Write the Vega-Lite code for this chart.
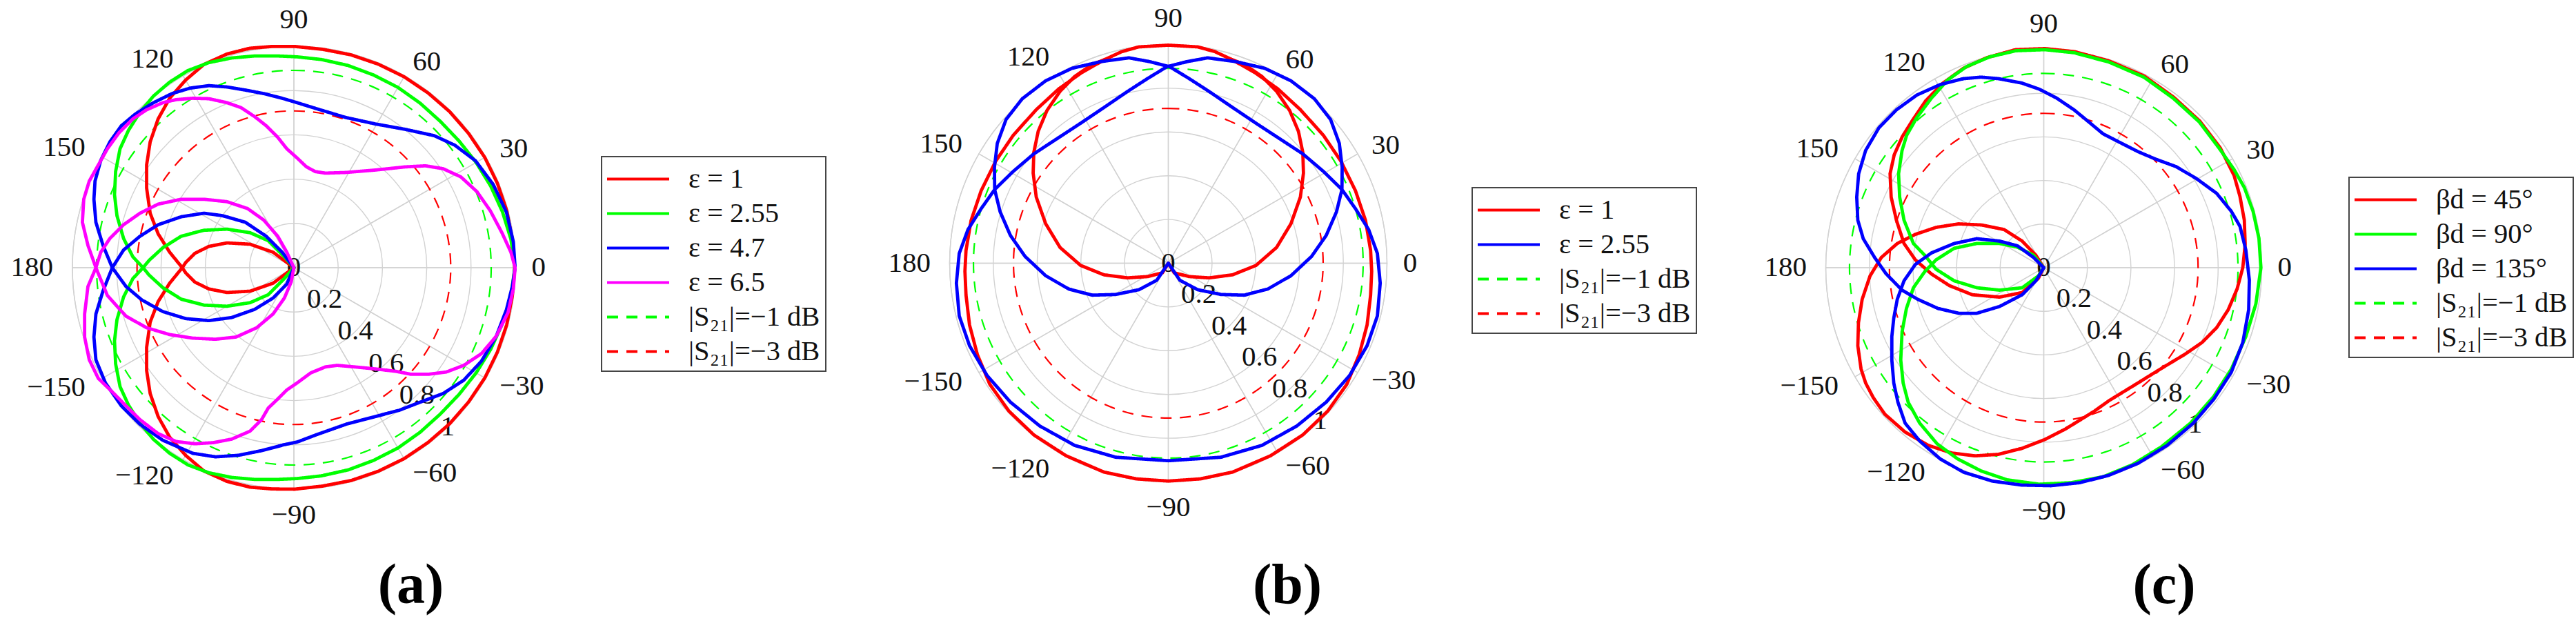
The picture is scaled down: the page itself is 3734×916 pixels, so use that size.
{
"$schema": "https://vega.github.io/schema/vega-lite/v6.json",
"background": "white",
"padding": {"left": 0, "top": 0, "right": 0, "bottom": 12},
"spacing": 0,
"bounds": "flush",
"config": {"view": {"stroke": null}, "legend": {"strokeWidth": 2, "cornerRadius": 0}},
"resolve": {"scale": {"stroke": "independent", "strokeDash": "independent"}, "legend": {"stroke": "independent", "strokeDash": "independent"}},
"datasets": {
"circles": [{"r":0.2},{"r":0.4},{"r":0.6},{"r":0.8},{"r":1}],
"angles": [{"a":0,"t":"0"},{"a":30,"t":"30"},{"a":60,"t":"60"},{"a":90,"t":"90"},{"a":120,"t":"120"},{"a":150,"t":"150"},{"a":180,"t":"180"},{"a":-150,"t":"−150"},{"a":-120,"t":"−120"},{"a":-90,"t":"−90"},{"a":-60,"t":"−60"},{"a":-30,"t":"−30"}],
"radial": [{"v":0,"t":"0"},{"v":0.2,"t":"0.2"},{"v":0.4,"t":"0.4"},{"v":0.6,"t":"0.6"},{"v":0.8,"t":"0.8"},{"v":1,"t":"1"}],
"db1": [{"s":"|S₂₁|=−1 dB","r":0.891}],
"db3": [{"s":"|S₂₁|=−3 dB","r":0.708}],
"A": [
{"s":"ε = 1","x":0,"y":0},{"s":"ε = 1","x":-0.094,"y":0.070},{"s":"ε = 1","x":-0.198,"y":0.106},{"s":"ε = 1","x":-0.302,"y":0.112},{"s":"ε = 1","x":-0.384,"y":0.096},{"s":"ε = 1","x":-0.447,"y":0.065},{"s":"ε = 1","x":-0.488,"y":0.024},{"s":"ε = 1","x":-0.504,"y":0},
{"s":"ε = 1","x":-0.561,"y":0.070},{"s":"ε = 1","x":-0.613,"y":0.153},{"s":"ε = 1","x":-0.649,"y":0.246},{"s":"ε = 1","x":-0.665,"y":0.360},{"s":"ε = 1","x":-0.665,"y":0.464},{"s":"ε = 1","x":-0.649,"y":0.568},{"s":"ε = 1","x":-0.613,"y":0.672},{"s":"ε = 1","x":-0.561,"y":0.765},{"s":"ε = 1","x":-0.488,"y":0.848},{"s":"ε = 1","x":-0.406,"y":0.918},{"s":"ε = 1","x":-0.302,"y":0.965},{"s":"ε = 1","x":-0.198,"y":0.991},{"s":"ε = 1","x":-0.097,"y":0.999},{"s":"ε = 1","x":0.003,"y":0.999},
{"s":"ε = 1","x":0.130,"y":0.986},{"s":"ε = 1","x":0.258,"y":0.961},{"s":"ε = 1","x":0.381,"y":0.919},{"s":"ε = 1","x":0.498,"y":0.862},{"s":"ε = 1","x":0.606,"y":0.789},{"s":"ε = 1","x":0.704,"y":0.704},{"s":"ε = 1","x":0.789,"y":0.606},{"s":"ε = 1","x":0.862,"y":0.498},{"s":"ε = 1","x":0.919,"y":0.381},{"s":"ε = 1","x":0.961,"y":0.258},{"s":"ε = 1","x":0.986,"y":0.130},{"s":"ε = 1","x":0.997,"y":0},
{"s":"ε = 1","x":0.986,"y":-0.130},{"s":"ε = 1","x":0.961,"y":-0.258},{"s":"ε = 1","x":0.919,"y":-0.381},{"s":"ε = 1","x":0.862,"y":-0.498},{"s":"ε = 1","x":0.789,"y":-0.606},{"s":"ε = 1","x":0.704,"y":-0.704},{"s":"ε = 1","x":0.606,"y":-0.789},{"s":"ε = 1","x":0.498,"y":-0.862},{"s":"ε = 1","x":0.381,"y":-0.919},{"s":"ε = 1","x":0.258,"y":-0.961},{"s":"ε = 1","x":0.130,"y":-0.986},{"s":"ε = 1","x":0.003,"y":-1.0},
{"s":"ε = 1","x":-0.097,"y":-0.999},{"s":"ε = 1","x":-0.198,"y":-0.991},{"s":"ε = 1","x":-0.302,"y":-0.965},{"s":"ε = 1","x":-0.406,"y":-0.918},{"s":"ε = 1","x":-0.488,"y":-0.848},{"s":"ε = 1","x":-0.561,"y":-0.765},{"s":"ε = 1","x":-0.613,"y":-0.672},{"s":"ε = 1","x":-0.649,"y":-0.568},{"s":"ε = 1","x":-0.665,"y":-0.464},{"s":"ε = 1","x":-0.665,"y":-0.360},{"s":"ε = 1","x":-0.649,"y":-0.246},{"s":"ε = 1","x":-0.613,"y":-0.153},{"s":"ε = 1","x":-0.561,"y":-0.070},{"s":"ε = 1","x":-0.504,"y":0},
{"s":"ε = 1","x":-0.488,"y":-0.024},{"s":"ε = 1","x":-0.447,"y":-0.065},{"s":"ε = 1","x":-0.384,"y":-0.096},{"s":"ε = 1","x":-0.302,"y":-0.112},{"s":"ε = 1","x":-0.198,"y":-0.106},{"s":"ε = 1","x":-0.094,"y":-0.070},{"s":"ε = 1","x":0,"y":0},

{"s":"ε = 2.55","x":0,"y":0},{"s":"ε = 2.55","x":-0.043,"y":0.049},{"s":"ε = 2.55","x":-0.116,"y":0.122},{"s":"ε = 2.55","x":-0.198,"y":0.158},{"s":"ε = 2.55","x":-0.302,"y":0.174},{"s":"ε = 2.55","x":-0.406,"y":0.169},{"s":"ε = 2.55","x":-0.509,"y":0.142},{"s":"ε = 2.55","x":-0.592,"y":0.090},{"s":"ε = 2.55","x":-0.654,"y":0.033},{"s":"ε = 2.55","x":-0.681,"y":0},
{"s":"ε = 2.55","x":-0.727,"y":0.049},{"s":"ε = 2.55","x":-0.769,"y":0.132},{"s":"ε = 2.55","x":-0.799,"y":0.235},{"s":"ε = 2.55","x":-0.810,"y":0.330},{"s":"ε = 2.55","x":-0.805,"y":0.434},{"s":"ε = 2.55","x":-0.785,"y":0.537},{"s":"ε = 2.55","x":-0.747,"y":0.620},{"s":"ε = 2.55","x":-0.695,"y":0.702},{"s":"ε = 2.55","x":-0.634,"y":0.775},{"s":"ε = 2.55","x":-0.561,"y":0.838},{"s":"ε = 2.55","x":-0.479,"y":0.890},{"s":"ε = 2.55","x":-0.384,"y":0.926},{"s":"ε = 2.55","x":-0.281,"y":0.947},{"s":"ε = 2.55","x":-0.177,"y":0.956},{"s":"ε = 2.55","x":-0.073,"y":0.956},{"s":"ε = 2.55","x":0.015,"y":0.952},
{"s":"ε = 2.55","x":0.124,"y":0.940},{"s":"ε = 2.55","x":0.245,"y":0.913},{"s":"ε = 2.55","x":0.360,"y":0.870},{"s":"ε = 2.55","x":0.470,"y":0.814},{"s":"ε = 2.55","x":0.570,"y":0.743},{"s":"ε = 2.55","x":0.661,"y":0.661},{"s":"ε = 2.55","x":0.746,"y":0.572},{"s":"ε = 2.55","x":0.823,"y":0.475},{"s":"ε = 2.55","x":0.889,"y":0.368},{"s":"ε = 2.55","x":0.942,"y":0.252},{"s":"ε = 2.55","x":0.980,"y":0.129},{"s":"ε = 2.55","x":0.998,"y":0},
{"s":"ε = 2.55","x":0.980,"y":-0.129},{"s":"ε = 2.55","x":0.942,"y":-0.252},{"s":"ε = 2.55","x":0.889,"y":-0.368},{"s":"ε = 2.55","x":0.823,"y":-0.475},{"s":"ε = 2.55","x":0.746,"y":-0.572},{"s":"ε = 2.55","x":0.661,"y":-0.661},{"s":"ε = 2.55","x":0.570,"y":-0.743},{"s":"ε = 2.55","x":0.470,"y":-0.814},{"s":"ε = 2.55","x":0.360,"y":-0.870},{"s":"ε = 2.55","x":0.245,"y":-0.913},{"s":"ε = 2.55","x":0.124,"y":-0.940},{"s":"ε = 2.55","x":0.015,"y":-0.952},
{"s":"ε = 2.55","x":-0.073,"y":-0.956},{"s":"ε = 2.55","x":-0.177,"y":-0.956},{"s":"ε = 2.55","x":-0.281,"y":-0.947},{"s":"ε = 2.55","x":-0.384,"y":-0.926},{"s":"ε = 2.55","x":-0.479,"y":-0.890},{"s":"ε = 2.55","x":-0.561,"y":-0.838},{"s":"ε = 2.55","x":-0.634,"y":-0.775},{"s":"ε = 2.55","x":-0.695,"y":-0.702},{"s":"ε = 2.55","x":-0.747,"y":-0.620},{"s":"ε = 2.55","x":-0.785,"y":-0.537},{"s":"ε = 2.55","x":-0.805,"y":-0.434},{"s":"ε = 2.55","x":-0.810,"y":-0.330},{"s":"ε = 2.55","x":-0.799,"y":-0.235},{"s":"ε = 2.55","x":-0.769,"y":-0.132},{"s":"ε = 2.55","x":-0.727,"y":-0.049},{"s":"ε = 2.55","x":-0.681,"y":0},
{"s":"ε = 2.55","x":-0.654,"y":-0.033},{"s":"ε = 2.55","x":-0.592,"y":-0.090},{"s":"ε = 2.55","x":-0.509,"y":-0.142},{"s":"ε = 2.55","x":-0.406,"y":-0.169},{"s":"ε = 2.55","x":-0.302,"y":-0.174},{"s":"ε = 2.55","x":-0.198,"y":-0.158},{"s":"ε = 2.55","x":-0.116,"y":-0.122},{"s":"ε = 2.55","x":-0.043,"y":-0.049},{"s":"ε = 2.55","x":0,"y":0},

{"s":"ε = 4.7","x":0,"y":0},{"s":"ε = 4.7","x":-0.053,"y":0.070},{"s":"ε = 4.7","x":-0.125,"y":0.142},{"s":"ε = 4.7","x":-0.219,"y":0.205},{"s":"ε = 4.7","x":-0.323,"y":0.235},{"s":"ε = 4.7","x":-0.406,"y":0.246},{"s":"ε = 4.7","x":-0.509,"y":0.230},{"s":"ε = 4.7","x":-0.613,"y":0.194},{"s":"ε = 4.7","x":-0.695,"y":0.142},{"s":"ε = 4.7","x":-0.769,"y":0.080},{"s":"ε = 4.7","x":-0.820,"y":0},
{"s":"ε = 4.7","x":-0.862,"y":0.101},{"s":"ε = 4.7","x":-0.894,"y":0.205},{"s":"ε = 4.7","x":-0.903,"y":0.309},{"s":"ε = 4.7","x":-0.898,"y":0.391},{"s":"ε = 4.7","x":-0.872,"y":0.485},{"s":"ε = 4.7","x":-0.831,"y":0.568},{"s":"ε = 4.7","x":-0.779,"y":0.641},{"s":"ε = 4.7","x":-0.717,"y":0.693},{"s":"ε = 4.7","x":-0.634,"y":0.745},{"s":"ε = 4.7","x":-0.551,"y":0.786},{"s":"ε = 4.7","x":-0.468,"y":0.811},{"s":"ε = 4.7","x":-0.384,"y":0.822},{"s":"ε = 4.7","x":-0.302,"y":0.816},{"s":"ε = 4.7","x":-0.219,"y":0.802},{"s":"ε = 4.7","x":-0.136,"y":0.786},{"s":"ε = 4.7","x":-0.053,"y":0.765},{"s":"ε = 4.7","x":0.015,"y":0.745},
{"s":"ε = 4.7","x":0.102,"y":0.718},{"s":"ε = 4.7","x":0.235,"y":0.678},{"s":"ε = 4.7","x":0.368,"y":0.649},{"s":"ε = 4.7","x":0.501,"y":0.625},{"s":"ε = 4.7","x":0.634,"y":0.596},{"s":"ε = 4.7","x":0.727,"y":0.553},{"s":"ε = 4.7","x":0.820,"y":0.483},{"s":"ε = 4.7","x":0.900,"y":0.376},{"s":"ε = 4.7","x":0.960,"y":0.250},{"s":"ε = 4.7","x":0.991,"y":0.117},{"s":"ε = 4.7","x":0.999,"y":0},
{"s":"ε = 4.7","x":0.987,"y":-0.082},{"s":"ε = 4.7","x":0.960,"y":-0.189},{"s":"ε = 4.7","x":0.914,"y":-0.309},{"s":"ε = 4.7","x":0.847,"y":-0.422},{"s":"ε = 4.7","x":0.767,"y":-0.508},{"s":"ε = 4.7","x":0.674,"y":-0.568},{"s":"ε = 4.7","x":0.568,"y":-0.608},{"s":"ε = 4.7","x":0.475,"y":-0.644},{"s":"ε = 4.7","x":0.368,"y":-0.672},{"s":"ε = 4.7","x":0.235,"y":-0.707},{"s":"ε = 4.7","x":0.102,"y":-0.754},{"s":"ε = 4.7","x":0.015,"y":-0.787},
{"s":"ε = 4.7","x":-0.043,"y":-0.799},{"s":"ε = 4.7","x":-0.146,"y":-0.826},{"s":"ε = 4.7","x":-0.250,"y":-0.847},{"s":"ε = 4.7","x":-0.354,"y":-0.854},{"s":"ε = 4.7","x":-0.457,"y":-0.838},{"s":"ε = 4.7","x":-0.592,"y":-0.779},{"s":"ε = 4.7","x":-0.695,"y":-0.707},{"s":"ε = 4.7","x":-0.779,"y":-0.624},{"s":"ε = 4.7","x":-0.851,"y":-0.520},{"s":"ε = 4.7","x":-0.894,"y":-0.416},{"s":"ε = 4.7","x":-0.903,"y":-0.313},{"s":"ε = 4.7","x":-0.894,"y":-0.209},{"s":"ε = 4.7","x":-0.862,"y":-0.105},{"s":"ε = 4.7","x":-0.820,"y":0},
{"s":"ε = 4.7","x":-0.758,"y":-0.085},{"s":"ε = 4.7","x":-0.686,"y":-0.146},{"s":"ε = 4.7","x":-0.592,"y":-0.198},{"s":"ε = 4.7","x":-0.488,"y":-0.230},{"s":"ε = 4.7","x":-0.384,"y":-0.239},{"s":"ε = 4.7","x":-0.281,"y":-0.225},{"s":"ε = 4.7","x":-0.177,"y":-0.188},{"s":"ε = 4.7","x":-0.094,"y":-0.137},{"s":"ε = 4.7","x":-0.032,"y":-0.074},{"s":"ε = 4.7","x":0,"y":0},

{"s":"ε = 6.5","x":0,"y":0},{"s":"ε = 6.5","x":-0.032,"y":0.070},{"s":"ε = 6.5","x":-0.073,"y":0.142},{"s":"ε = 6.5","x":-0.136,"y":0.215},{"s":"ε = 6.5","x":-0.209,"y":0.267},{"s":"ε = 6.5","x":-0.302,"y":0.298},{"s":"ε = 6.5","x":-0.406,"y":0.309},{"s":"ε = 6.5","x":-0.509,"y":0.309},{"s":"ε = 6.5","x":-0.613,"y":0.287},{"s":"ε = 6.5","x":-0.695,"y":0.246},{"s":"ε = 6.5","x":-0.769,"y":0.194},{"s":"ε = 6.5","x":-0.831,"y":0.132},{"s":"ε = 6.5","x":-0.872,"y":0.070},{"s":"ε = 6.5","x":-0.894,"y":0},
{"s":"ε = 6.5","x":-0.930,"y":0.101},{"s":"ε = 6.5","x":-0.955,"y":0.205},{"s":"ε = 6.5","x":-0.949,"y":0.309},{"s":"ε = 6.5","x":-0.924,"y":0.391},{"s":"ε = 6.5","x":-0.883,"y":0.464},{"s":"ε = 6.5","x":-0.842,"y":0.537},{"s":"ε = 6.5","x":-0.790,"y":0.609},{"s":"ε = 6.5","x":-0.727,"y":0.672},{"s":"ε = 6.5","x":-0.665,"y":0.713},{"s":"ε = 6.5","x":-0.592,"y":0.745},{"s":"ε = 6.5","x":-0.531,"y":0.759},{"s":"ε = 6.5","x":-0.457,"y":0.765},{"s":"ε = 6.5","x":-0.384,"y":0.763},{"s":"ε = 6.5","x":-0.302,"y":0.745},{"s":"ε = 6.5","x":-0.239,"y":0.723},{"s":"ε = 6.5","x":-0.177,"y":0.682},{"s":"ε = 6.5","x":-0.125,"y":0.641},{"s":"ε = 6.5","x":-0.073,"y":0.589},{"s":"ε = 6.5","x":-0.032,"y":0.537},{"s":"ε = 6.5","x":0.015,"y":0.495},{"s":"ε = 6.5","x":0.056,"y":0.456},{"s":"ε = 6.5","x":0.096,"y":0.434},{"s":"ε = 6.5","x":0.142,"y":0.427},{"s":"ε = 6.5","x":0.235,"y":0.430},{"s":"ε = 6.5","x":0.368,"y":0.441},{"s":"ε = 6.5","x":0.501,"y":0.455},{"s":"ε = 6.5","x":0.594,"y":0.460},{"s":"ε = 6.5","x":0.674,"y":0.447},{"s":"ε = 6.5","x":0.754,"y":0.410},{"s":"ε = 6.5","x":0.827,"y":0.343},{"s":"ε = 6.5","x":0.887,"y":0.257},{"s":"ε = 6.5","x":0.940,"y":0.157},{"s":"ε = 6.5","x":0.980,"y":0.070},{"s":"ε = 6.5","x":0.999,"y":0},
{"s":"ε = 6.5","x":0.991,"y":-0.096},{"s":"ε = 6.5","x":0.967,"y":-0.202},{"s":"ε = 6.5","x":0.914,"y":-0.309},{"s":"ε = 6.5","x":0.847,"y":-0.388},{"s":"ε = 6.5","x":0.767,"y":-0.441},{"s":"ε = 6.5","x":0.688,"y":-0.471},{"s":"ε = 6.5","x":0.608,"y":-0.481},{"s":"ε = 6.5","x":0.528,"y":-0.481},{"s":"ε = 6.5","x":0.461,"y":-0.468},{"s":"ε = 6.5","x":0.368,"y":-0.457},{"s":"ε = 6.5","x":0.275,"y":-0.448},{"s":"ε = 6.5","x":0.195,"y":-0.441},{"s":"ε = 6.5","x":0.142,"y":-0.448},{"s":"ε = 6.5","x":0.076,"y":-0.475},{"s":"ε = 6.5","x":0.015,"y":-0.520},{"s":"ε = 6.5","x":-0.032,"y":-0.552},{"s":"ε = 6.5","x":-0.073,"y":-0.593},{"s":"ε = 6.5","x":-0.116,"y":-0.634},{"s":"ε = 6.5","x":-0.146,"y":-0.686},{"s":"ε = 6.5","x":-0.198,"y":-0.738},{"s":"ε = 6.5","x":-0.281,"y":-0.774},{"s":"ε = 6.5","x":-0.364,"y":-0.790},{"s":"ε = 6.5","x":-0.447,"y":-0.795},{"s":"ε = 6.5","x":-0.531,"y":-0.785},{"s":"ε = 6.5","x":-0.613,"y":-0.749},{"s":"ε = 6.5","x":-0.695,"y":-0.686},{"s":"ε = 6.5","x":-0.758,"y":-0.624},{"s":"ε = 6.5","x":-0.820,"y":-0.561},{"s":"ε = 6.5","x":-0.883,"y":-0.500},{"s":"ε = 6.5","x":-0.924,"y":-0.416},{"s":"ε = 6.5","x":-0.945,"y":-0.313},{"s":"ε = 6.5","x":-0.945,"y":-0.209},{"s":"ε = 6.5","x":-0.930,"y":-0.085},{"s":"ε = 6.5","x":-0.894,"y":0},
{"s":"ε = 6.5","x":-0.842,"y":-0.126},{"s":"ε = 6.5","x":-0.758,"y":-0.219},{"s":"ε = 6.5","x":-0.665,"y":-0.271},{"s":"ε = 6.5","x":-0.561,"y":-0.302},{"s":"ε = 6.5","x":-0.457,"y":-0.318},{"s":"ε = 6.5","x":-0.354,"y":-0.323},{"s":"ε = 6.5","x":-0.261,"y":-0.313},{"s":"ε = 6.5","x":-0.168,"y":-0.271},{"s":"ε = 6.5","x":-0.094,"y":-0.209},{"s":"ε = 6.5","x":-0.043,"y":-0.137},{"s":"ε = 6.5","x":-0.012,"y":-0.064},{"s":"ε = 6.5","x":0,"y":0}
],
"B": [
{"s":"ε = 1","k":1,"x":0,"y":0},{"s":"ε = 1","k":1,"x":0.027,"y":-0.044},{"s":"ε = 1","k":1,"x":0.094,"y":-0.061},{"s":"ε = 1","k":1,"x":0.187,"y":-0.067},{"s":"ε = 1","k":1,"x":0.294,"y":-0.053},{"s":"ε = 1","k":1,"x":0.401,"y":-0.010},{"s":"ε = 1","k":1,"x":0.495,"y":0.072},{"s":"ε = 1","k":1,"x":0.561,"y":0.181},{"s":"ε = 1","k":1,"x":0.604,"y":0.303},{"s":"ε = 1","k":1,"x":0.618,"y":0.412},{"s":"ε = 1","k":1,"x":0.615,"y":0.507},{"s":"ε = 1","k":1,"x":0.595,"y":0.603},{"s":"ε = 1","k":1,"x":0.555,"y":0.698},{"s":"ε = 1","k":1,"x":0.495,"y":0.786},{"s":"ε = 1","k":1,"x":0.428,"y":0.854},{"s":"ε = 1","k":1,"x":0.348,"y":0.909},
{"s":"ε = 1","k":1,"x":0.291,"y":0.931},{"s":"ε = 1","k":1,"x":0.214,"y":0.967},{"s":"ε = 1","k":1,"x":0.135,"y":0.989},{"s":"ε = 1","k":1,"x":0,"y":0.997},{"s":"ε = 1","k":1,"x":-0.135,"y":0.989},{"s":"ε = 1","k":1,"x":-0.214,"y":0.967},{"s":"ε = 1","k":1,"x":-0.291,"y":0.931},
{"s":"ε = 1","k":1,"x":-0.348,"y":0.909},{"s":"ε = 1","k":1,"x":-0.428,"y":0.854},{"s":"ε = 1","k":1,"x":-0.495,"y":0.786},{"s":"ε = 1","k":1,"x":-0.555,"y":0.698},{"s":"ε = 1","k":1,"x":-0.595,"y":0.603},{"s":"ε = 1","k":1,"x":-0.615,"y":0.507},{"s":"ε = 1","k":1,"x":-0.618,"y":0.412},{"s":"ε = 1","k":1,"x":-0.604,"y":0.303},{"s":"ε = 1","k":1,"x":-0.561,"y":0.181},{"s":"ε = 1","k":1,"x":-0.495,"y":0.072},{"s":"ε = 1","k":1,"x":-0.401,"y":-0.010},{"s":"ε = 1","k":1,"x":-0.294,"y":-0.053},{"s":"ε = 1","k":1,"x":-0.187,"y":-0.067},{"s":"ε = 1","k":1,"x":-0.094,"y":-0.061},{"s":"ε = 1","k":1,"x":-0.027,"y":-0.044},{"s":"ε = 1","k":1,"x":0,"y":0},
{"s":"ε = 1","k":2,"x":-0.291,"y":0.931},{"s":"ε = 1","k":2,"x":-0.397,"y":0.871},{"s":"ε = 1","k":2,"x":-0.501,"y":0.797},{"s":"ε = 1","k":2,"x":-0.604,"y":0.702},{"s":"ε = 1","k":2,"x":-0.709,"y":0.585},{"s":"ε = 1","k":2,"x":-0.789,"y":0.467},{"s":"ε = 1","k":2,"x":-0.856,"y":0.331},{"s":"ε = 1","k":2,"x":-0.902,"y":0.195},{"s":"ε = 1","k":2,"x":-0.925,"y":0.059},{"s":"ε = 1","k":2,"x":-0.930,"y":-0.037},{"s":"ε = 1","k":2,"x":-0.925,"y":-0.146},{"s":"ε = 1","k":2,"x":-0.909,"y":-0.282},{"s":"ε = 1","k":2,"x":-0.873,"y":-0.418},{"s":"ε = 1","k":2,"x":-0.816,"y":-0.554},{"s":"ε = 1","k":2,"x":-0.729,"y":-0.676},{"s":"ε = 1","k":2,"x":-0.615,"y":-0.785},{"s":"ε = 1","k":2,"x":-0.468,"y":-0.880},{"s":"ε = 1","k":2,"x":-0.294,"y":-0.955},{"s":"ε = 1","k":2,"x":-0.147,"y":-0.986},{"s":"ε = 1","k":2,"x":0,"y":-0.996},{"s":"ε = 1","k":2,"x":0.147,"y":-0.986},{"s":"ε = 1","k":2,"x":0.294,"y":-0.955},{"s":"ε = 1","k":2,"x":0.468,"y":-0.880},{"s":"ε = 1","k":2,"x":0.615,"y":-0.785},{"s":"ε = 1","k":2,"x":0.729,"y":-0.676},{"s":"ε = 1","k":2,"x":0.816,"y":-0.554},{"s":"ε = 1","k":2,"x":0.873,"y":-0.418},{"s":"ε = 1","k":2,"x":0.909,"y":-0.282},{"s":"ε = 1","k":2,"x":0.925,"y":-0.146},{"s":"ε = 1","k":2,"x":0.930,"y":-0.037},{"s":"ε = 1","k":2,"x":0.925,"y":0.059},{"s":"ε = 1","k":2,"x":0.902,"y":0.195},{"s":"ε = 1","k":2,"x":0.856,"y":0.331},{"s":"ε = 1","k":2,"x":0.789,"y":0.467},{"s":"ε = 1","k":2,"x":0.709,"y":0.585},{"s":"ε = 1","k":2,"x":0.604,"y":0.702},{"s":"ε = 1","k":2,"x":0.501,"y":0.797},{"s":"ε = 1","k":2,"x":0.397,"y":0.871},{"s":"ε = 1","k":2,"x":0.291,"y":0.931},

{"s":"ε = 2.55","x":0,"y":0},{"s":"ε = 2.55","x":-0.053,"y":-0.078},{"s":"ε = 2.55","x":-0.134,"y":-0.121},{"s":"ε = 2.55","x":-0.241,"y":-0.143},{"s":"ε = 2.55","x":-0.348,"y":-0.146},{"s":"ε = 2.55","x":-0.455,"y":-0.118},{"s":"ε = 2.55","x":-0.561,"y":-0.057},{"s":"ε = 2.55","x":-0.655,"y":0.031},{"s":"ε = 2.55","x":-0.722,"y":0.127},{"s":"ε = 2.55","x":-0.769,"y":0.235},{"s":"ε = 2.55","x":-0.794,"y":0.337},
{"s":"ε = 2.55","x":-0.795,"y":0.439},{"s":"ε = 2.55","x":-0.782,"y":0.548},{"s":"ε = 2.55","x":-0.742,"y":0.657},{"s":"ε = 2.55","x":-0.668,"y":0.752},{"s":"ε = 2.55","x":-0.561,"y":0.834},{"s":"ε = 2.55","x":-0.441,"y":0.891},{"s":"ε = 2.55","x":-0.307,"y":0.922},{"s":"ε = 2.55","x":-0.180,"y":0.939},
{"s":"ε = 2.55","x":-0.087,"y":0.922},{"s":"ε = 2.55","x":0.007,"y":0.898},{"s":"ε = 2.55","x":0.094,"y":0.845},{"s":"ε = 2.55","x":0.187,"y":0.785},{"s":"ε = 2.55","x":0.294,"y":0.712},{"s":"ε = 2.55","x":0.401,"y":0.640},{"s":"ε = 2.55","x":0.508,"y":0.570},{"s":"ε = 2.55","x":0.615,"y":0.500},{"s":"ε = 2.55","x":0.709,"y":0.420},{"s":"ε = 2.55","x":0.794,"y":0.337},
{"s":"ε = 2.55","x":0.856,"y":0.249},{"s":"ε = 2.55","x":0.916,"y":0.154},{"s":"ε = 2.55","x":0.956,"y":0.045},{"s":"ε = 2.55","x":0.969,"y":-0.091},{"s":"ε = 2.55","x":0.956,"y":-0.241},{"s":"ε = 2.55","x":0.909,"y":-0.377},{"s":"ε = 2.55","x":0.829,"y":-0.513},{"s":"ε = 2.55","x":0.722,"y":-0.635},{"s":"ε = 2.55","x":0.588,"y":-0.744},{"s":"ε = 2.55","x":0.428,"y":-0.833},{"s":"ε = 2.55","x":0.241,"y":-0.887},{"s":"ε = 2.55","x":0,"y":-0.903},
{"s":"ε = 2.55","x":-0.241,"y":-0.887},{"s":"ε = 2.55","x":-0.428,"y":-0.833},{"s":"ε = 2.55","x":-0.588,"y":-0.744},{"s":"ε = 2.55","x":-0.722,"y":-0.635},{"s":"ε = 2.55","x":-0.829,"y":-0.513},{"s":"ε = 2.55","x":-0.909,"y":-0.377},{"s":"ε = 2.55","x":-0.956,"y":-0.241},{"s":"ε = 2.55","x":-0.969,"y":-0.091},{"s":"ε = 2.55","x":-0.956,"y":0.045},{"s":"ε = 2.55","x":-0.916,"y":0.154},{"s":"ε = 2.55","x":-0.856,"y":0.249},{"s":"ε = 2.55","x":-0.794,"y":0.337},
{"s":"ε = 2.55","x":-0.709,"y":0.420},{"s":"ε = 2.55","x":-0.615,"y":0.500},{"s":"ε = 2.55","x":-0.508,"y":0.570},{"s":"ε = 2.55","x":-0.401,"y":0.640},{"s":"ε = 2.55","x":-0.294,"y":0.712},{"s":"ε = 2.55","x":-0.187,"y":0.785},{"s":"ε = 2.55","x":-0.094,"y":0.845},{"s":"ε = 2.55","x":-0.007,"y":0.898},{"s":"ε = 2.55","x":0.087,"y":0.922},{"s":"ε = 2.55","x":0.180,"y":0.939},
{"s":"ε = 2.55","x":0.307,"y":0.922},{"s":"ε = 2.55","x":0.441,"y":0.891},{"s":"ε = 2.55","x":0.561,"y":0.834},{"s":"ε = 2.55","x":0.668,"y":0.752},{"s":"ε = 2.55","x":0.742,"y":0.657},{"s":"ε = 2.55","x":0.782,"y":0.548},{"s":"ε = 2.55","x":0.795,"y":0.439},{"s":"ε = 2.55","x":0.794,"y":0.337},
{"s":"ε = 2.55","x":0.769,"y":0.235},{"s":"ε = 2.55","x":0.722,"y":0.127},{"s":"ε = 2.55","x":0.655,"y":0.031},{"s":"ε = 2.55","x":0.561,"y":-0.057},{"s":"ε = 2.55","x":0.455,"y":-0.118},{"s":"ε = 2.55","x":0.348,"y":-0.146},{"s":"ε = 2.55","x":0.241,"y":-0.143},{"s":"ε = 2.55","x":0.134,"y":-0.121},{"s":"ε = 2.55","x":0.053,"y":-0.078},{"s":"ε = 2.55","x":0,"y":0}
],
"C": [
{"s":"βd = 45°","x":0,"y":0},{"s":"βd = 45°","x":-0.036,"y":0.057},{"s":"βd = 45°","x":-0.099,"y":0.122},{"s":"βd = 45°","x":-0.182,"y":0.175},{"s":"βd = 45°","x":-0.286,"y":0.196},{"s":"βd = 45°","x":-0.390,"y":0.201},{"s":"βd = 45°","x":-0.494,"y":0.185},{"s":"βd = 45°","x":-0.589,"y":0.153},{"s":"βd = 45°","x":-0.672,"y":0.111},{"s":"βd = 45°","x":-0.745,"y":0.047},{"s":"βd = 45°","x":-0.797,"y":-0.038},{"s":"βd = 45°","x":-0.833,"y":-0.145},{"s":"βd = 45°","x":-0.850,"y":-0.252},{"s":"βd = 45°","x":-0.853,"y":-0.358},{"s":"βd = 45°","x":-0.838,"y":-0.465},{"s":"βd = 45°","x":-0.817,"y":-0.529},{"s":"βd = 45°","x":-0.782,"y":-0.596},{"s":"βd = 45°","x":-0.729,"y":-0.672},{"s":"βd = 45°","x":-0.636,"y":-0.754},{"s":"βd = 45°","x":-0.529,"y":-0.815},{"s":"βd = 45°","x":-0.422,"y":-0.850},{"s":"βd = 45°","x":-0.315,"y":-0.863},{"s":"βd = 45°","x":-0.208,"y":-0.856},{"s":"βd = 45°","x":-0.101,"y":-0.829},{"s":"βd = 45°","x":0.005,"y":-0.788},{"s":"βd = 45°","x":0.099,"y":-0.740},{"s":"βd = 45°","x":0.166,"y":-0.699},{"s":"βd = 45°","x":0.232,"y":-0.658},{"s":"βd = 45°","x":0.299,"y":-0.610},{"s":"βd = 45°","x":0.366,"y":-0.569},{"s":"βd = 45°","x":0.433,"y":-0.528},{"s":"βd = 45°","x":0.499,"y":-0.487},{"s":"βd = 45°","x":0.566,"y":-0.446},{"s":"βd = 45°","x":0.646,"y":-0.398},{"s":"βd = 45°","x":0.726,"y":-0.343},{"s":"βd = 45°","x":0.793,"y":-0.275},{"s":"βd = 45°","x":0.846,"y":-0.193},{"s":"βd = 45°","x":0.887,"y":-0.097},{"s":"βd = 45°","x":0.913,"y":0},{"s":"βd = 45°","x":0.924,"y":0.108},{"s":"βd = 45°","x":0.920,"y":0.218},{"s":"βd = 45°","x":0.900,"y":0.327},{"s":"βd = 45°","x":0.873,"y":0.423},{"s":"βd = 45°","x":0.810,"y":0.549},{"s":"βd = 45°","x":0.716,"y":0.672},{"s":"βd = 45°","x":0.596,"y":0.782},{"s":"βd = 45°","x":0.461,"y":0.879},{"s":"βd = 45°","x":0.300,"y":0.948},{"s":"βd = 45°","x":0.140,"y":0.991},{"s":"βd = 45°","x":0.005,"y":1.005},{"s":"βd = 45°","x":-0.129,"y":1.0},{"s":"βd = 45°","x":-0.262,"y":0.963},{"s":"βd = 45°","x":-0.368,"y":0.915},{"s":"βd = 45°","x":-0.462,"y":0.847},{"s":"βd = 45°","x":-0.542,"y":0.765},{"s":"βd = 45°","x":-0.602,"y":0.676},{"s":"βd = 45°","x":-0.649,"y":0.601},{"s":"βd = 45°","x":-0.686,"y":0.518},{"s":"βd = 45°","x":-0.705,"y":0.431},{"s":"βd = 45°","x":-0.700,"y":0.324},{"s":"βd = 45°","x":-0.676,"y":0.218},{"s":"βd = 45°","x":-0.641,"y":0.111},{"s":"βd = 45°","x":-0.589,"y":0.036},{"s":"βd = 45°","x":-0.515,"y":-0.029},{"s":"βd = 45°","x":-0.433,"y":-0.082},{"s":"βd = 45°","x":-0.328,"y":-0.124},{"s":"βd = 45°","x":-0.203,"y":-0.135},{"s":"βd = 45°","x":-0.099,"y":-0.114},{"s":"βd = 45°","x":-0.025,"y":-0.049},{"s":"βd = 45°","x":0,"y":0},

{"s":"βd = 90°","x":0,"y":0},{"s":"βd = 90°","x":-0.047,"y":0.057},{"s":"βd = 90°","x":-0.120,"y":0.094},{"s":"βd = 90°","x":-0.203,"y":0.111},{"s":"βd = 90°","x":-0.307,"y":0.111},{"s":"βd = 90°","x":-0.411,"y":0.089},{"s":"βd = 90°","x":-0.494,"y":0.036},{"s":"βd = 90°","x":-0.546,"y":-0.018},{"s":"βd = 90°","x":-0.598,"y":-0.092},{"s":"βd = 90°","x":-0.630,"y":-0.187},{"s":"βd = 90°","x":-0.650,"y":-0.294},{"s":"βd = 90°","x":-0.656,"y":-0.423},{"s":"βd = 90°","x":-0.645,"y":-0.529},{"s":"βd = 90°","x":-0.622,"y":-0.617},{"s":"βd = 90°","x":-0.569,"y":-0.713},{"s":"βd = 90°","x":-0.489,"y":-0.808},{"s":"βd = 90°","x":-0.395,"y":-0.877},{"s":"βd = 90°","x":-0.288,"y":-0.932},{"s":"βd = 90°","x":-0.168,"y":-0.973},{"s":"βd = 90°","x":-0.021,"y":-0.993},{"s":"βd = 90°","x":0.126,"y":-0.986},{"s":"βd = 90°","x":0.272,"y":-0.959},{"s":"βd = 90°","x":0.406,"y":-0.904},{"s":"βd = 90°","x":0.539,"y":-0.822},{"s":"βd = 90°","x":0.673,"y":-0.713},{"s":"βd = 90°","x":0.780,"y":-0.590},{"s":"βd = 90°","x":0.860,"y":-0.466},{"s":"βd = 90°","x":0.927,"y":-0.316},{"s":"βd = 90°","x":0.973,"y":-0.166},{"s":"βd = 90°","x":0.996,"y":0},{"s":"βd = 90°","x":0.987,"y":0.135},{"s":"βd = 90°","x":0.960,"y":0.259},{"s":"βd = 90°","x":0.920,"y":0.368},{"s":"βd = 90°","x":0.873,"y":0.450},{"s":"βd = 90°","x":0.806,"y":0.546},{"s":"βd = 90°","x":0.713,"y":0.669},{"s":"βd = 90°","x":0.593,"y":0.778},{"s":"βd = 90°","x":0.459,"y":0.874},{"s":"βd = 90°","x":0.299,"y":0.943},{"s":"βd = 90°","x":0.139,"y":0.986},{"s":"βd = 90°","x":0.005,"y":1.0},{"s":"βd = 90°","x":-0.128,"y":0.995},{"s":"βd = 90°","x":-0.248,"y":0.967},{"s":"βd = 90°","x":-0.355,"y":0.922},{"s":"βd = 90°","x":-0.442,"y":0.860},{"s":"βd = 90°","x":-0.515,"y":0.778},{"s":"βd = 90°","x":-0.582,"y":0.689},{"s":"βd = 90°","x":-0.629,"y":0.607},{"s":"βd = 90°","x":-0.650,"y":0.538},{"s":"βd = 90°","x":-0.666,"y":0.431},{"s":"βd = 90°","x":-0.661,"y":0.324},{"s":"βd = 90°","x":-0.641,"y":0.218},{"s":"βd = 90°","x":-0.598,"y":0.111},{"s":"βd = 90°","x":-0.546,"y":0.057},{"s":"βd = 90°","x":-0.494,"y":-0.007},{"s":"βd = 90°","x":-0.411,"y":-0.060},{"s":"βd = 90°","x":-0.307,"y":-0.092},{"s":"βd = 90°","x":-0.203,"y":-0.103},{"s":"βd = 90°","x":-0.099,"y":-0.092},{"s":"βd = 90°","x":-0.025,"y":-0.038},{"s":"βd = 90°","x":0,"y":0},

{"s":"βd = 135°","x":0,"y":0},{"s":"βd = 135°","x":-0.047,"y":0.047},{"s":"βd = 135°","x":-0.120,"y":0.100},{"s":"βd = 135°","x":-0.203,"y":0.122},{"s":"βd = 135°","x":-0.307,"y":0.133},{"s":"βd = 135°","x":-0.411,"y":0.111},{"s":"βd = 135°","x":-0.515,"y":0.068},{"s":"βd = 135°","x":-0.589,"y":0.015},{"s":"βd = 135°","x":-0.641,"y":-0.060},{"s":"βd = 135°","x":-0.672,"y":-0.145},{"s":"βd = 135°","x":-0.688,"y":-0.231},{"s":"βd = 135°","x":-0.697,"y":-0.316},{"s":"βd = 135°","x":-0.697,"y":-0.423},{"s":"βd = 135°","x":-0.688,"y":-0.529},{"s":"βd = 135°","x":-0.669,"y":-0.617},{"s":"βd = 135°","x":-0.636,"y":-0.713},{"s":"βd = 135°","x":-0.569,"y":-0.795},{"s":"βd = 135°","x":-0.475,"y":-0.877},{"s":"βd = 135°","x":-0.368,"y":-0.938},{"s":"βd = 135°","x":-0.235,"y":-0.979},{"s":"βd = 135°","x":-0.101,"y":-0.997},{"s":"βd = 135°","x":0.032,"y":-1.0},{"s":"βd = 135°","x":0.166,"y":-0.986},{"s":"βd = 135°","x":0.299,"y":-0.952},{"s":"βd = 135°","x":0.433,"y":-0.897},{"s":"βd = 135°","x":0.566,"y":-0.815},{"s":"βd = 135°","x":0.686,"y":-0.713},{"s":"βd = 135°","x":0.780,"y":-0.603},{"s":"βd = 135°","x":0.860,"y":-0.480},{"s":"βd = 135°","x":0.913,"y":-0.343},{"s":"βd = 135°","x":0.940,"y":-0.193},{"s":"βd = 135°","x":0.943,"y":-0.056},{"s":"βd = 135°","x":0.927,"y":0.081},{"s":"βd = 135°","x":0.900,"y":0.190},{"s":"βd = 135°","x":0.860,"y":0.259},{"s":"βd = 135°","x":0.793,"y":0.341},{"s":"βd = 135°","x":0.700,"y":0.409},{"s":"βd = 135°","x":0.606,"y":0.464},{"s":"βd = 135°","x":0.513,"y":0.498},{"s":"βd = 135°","x":0.433,"y":0.532},{"s":"βd = 135°","x":0.352,"y":0.573},{"s":"βd = 135°","x":0.272,"y":0.614},{"s":"βd = 135°","x":0.206,"y":0.669},{"s":"βd = 135°","x":0.139,"y":0.724},{"s":"βd = 135°","x":0.059,"y":0.778},{"s":"βd = 135°","x":-0.021,"y":0.819},{"s":"βd = 135°","x":-0.101,"y":0.847},{"s":"βd = 135°","x":-0.208,"y":0.867},{"s":"βd = 135°","x":-0.288,"y":0.874},{"s":"βd = 135°","x":-0.368,"y":0.867},{"s":"βd = 135°","x":-0.475,"y":0.840},{"s":"βd = 135°","x":-0.582,"y":0.792},{"s":"βd = 135°","x":-0.676,"y":0.724},{"s":"βd = 135°","x":-0.756,"y":0.642},{"s":"βd = 135°","x":-0.817,"y":0.538},{"s":"βd = 135°","x":-0.849,"y":0.431},{"s":"βd = 135°","x":-0.858,"y":0.324},{"s":"βd = 135°","x":-0.853,"y":0.218},{"s":"βd = 135°","x":-0.828,"y":0.133},{"s":"βd = 135°","x":-0.776,"y":0.047},{"s":"βd = 135°","x":-0.724,"y":-0.027},{"s":"βd = 135°","x":-0.650,"y":-0.103},{"s":"βd = 135°","x":-0.578,"y":-0.145},{"s":"βd = 135°","x":-0.485,"y":-0.187},{"s":"βd = 135°","x":-0.390,"y":-0.209},{"s":"βd = 135°","x":-0.307,"y":-0.209},{"s":"βd = 135°","x":-0.203,"y":-0.178},{"s":"βd = 135°","x":-0.099,"y":-0.124},{"s":"βd = 135°","x":-0.036,"y":-0.060},{"s":"βd = 135°","x":0,"y":0}
]
},
"hconcat": [
{
"width": 1191, "height": 800,
"resolve": {"scale": {"theta": "independent"}},
"title": {"text": "(a)", "orient": "bottom", "anchor": "middle", "frame": "group", "offset": 9, "fontSize": 82, "font": "Liberation Serif", "fontWeight": "bold", "color": "#000000"},
"layer": [
{"data": {"name": "circles"}, "mark": {"type": "arc", "filled": false, "clip": true, "stroke": "#d2d2d2", "strokeWidth": 1.4, "theta": 0, "theta2": 6.2832},
 "encoding": {"x": {"datum": 0, "type": "quantitative", "scale": {"domain": [-1.3271, 2.3832], "zero": false, "nice": false}, "axis": null}, "y": {"datum": 0, "type": "quantitative", "scale": {"domain": [-1.2835, 1.2087], "zero": false, "nice": false}, "axis": null}, "radius": {"field": "r", "type": "quantitative", "scale": {"type": "linear", "domain": [0, 1], "range": [0, 321], "zero": true, "nice": false}}, "radius2": {"datum": 0}}},
{"data": {"name": "angles"}, "mark": {"type": "arc", "filled": false, "clip": true, "stroke": "#d2d2d2", "strokeWidth": 1.4},
 "encoding": {"x": {"datum": 0, "type": "quantitative", "scale": {"domain": [-1.3271, 2.3832], "zero": false, "nice": false}, "axis": null}, "y": {"datum": 0, "type": "quantitative", "scale": {"domain": [-1.2835, 1.2087], "zero": false, "nice": false}, "axis": null}, "theta": {"aggregate": "count", "type": "quantitative", "stack": true}, "detail": {"field": "t", "type": "nominal"}, "radius": {"datum": 1, "type": "quantitative", "scale": {"type": "linear", "domain": [0, 1], "range": [0, 321], "zero": true, "nice": false}}, "radius2": {"datum": 0}}},
{"data": {"name": "angles"}, "transform": [{"filter": "datum.a > -90 && datum.a < 90"}], "mark": {"type": "text", "align": "left", "baseline": "middle", "font": "Liberation Serif", "fontSize": 41, "color": "#111111"},
 "encoding": {"x": {"datum": 0, "type": "quantitative", "scale": {"domain": [-1.3271, 2.3832], "zero": false, "nice": false}, "axis": null}, "y": {"datum": 0, "type": "quantitative", "scale": {"domain": [-1.2835, 1.2087], "zero": false, "nice": false}, "axis": null}, "theta": {"field": "a", "type": "quantitative", "scale": {"type": "linear", "domain": [90, -270], "range": [0, 6.283185307179586], "zero": false, "nice": false}}, "radius": {"datum": 1.073, "type": "quantitative", "scale": {"type": "linear", "domain": [0, 1], "range": [0, 321], "zero": true, "nice": false}}, "text": {"field": "t"}}},
{"data": {"name": "angles"}, "transform": [{"filter": "datum.a > 90 || datum.a < -90"}], "mark": {"type": "text", "align": "right", "baseline": "middle", "font": "Liberation Serif", "fontSize": 41, "color": "#111111"},
 "encoding": {"x": {"datum": 0, "type": "quantitative", "scale": {"domain": [-1.3271, 2.3832], "zero": false, "nice": false}, "axis": null}, "y": {"datum": 0, "type": "quantitative", "scale": {"domain": [-1.2835, 1.2087], "zero": false, "nice": false}, "axis": null}, "theta": {"field": "a", "type": "quantitative", "scale": {"type": "linear", "domain": [90, -270], "range": [0, 6.283185307179586], "zero": false, "nice": false}}, "radius": {"datum": 1.087, "type": "quantitative", "scale": {"type": "linear", "domain": [0, 1], "range": [0, 321], "zero": true, "nice": false}}, "text": {"field": "t"}}},
{"data": {"name": "angles"}, "transform": [{"filter": "datum.a == 90 || datum.a == -90"}], "mark": {"type": "text", "align": "center", "baseline": "middle", "font": "Liberation Serif", "fontSize": 41, "color": "#111111"},
 "encoding": {"x": {"datum": 0, "type": "quantitative", "scale": {"domain": [-1.3271, 2.3832], "zero": false, "nice": false}, "axis": null}, "y": {"datum": 0, "type": "quantitative", "scale": {"domain": [-1.2835, 1.2087], "zero": false, "nice": false}, "axis": null}, "theta": {"field": "a", "type": "quantitative", "scale": {"type": "linear", "domain": [90, -270], "range": [0, 6.283185307179586], "zero": false, "nice": false}}, "radius": {"datum": 1.117, "type": "quantitative", "scale": {"type": "linear", "domain": [0, 1], "range": [0, 321], "zero": true, "nice": false}}, "text": {"field": "t"}}},
{"data": {"name": "radial"}, "mark": {"type": "text", "align": "center", "baseline": "middle", "font": "Liberation Serif", "fontSize": 41, "color": "#111111"},
 "encoding": {"x": {"datum": 0, "type": "quantitative", "scale": {"domain": [-1.3271, 2.3832], "zero": false, "nice": false}, "axis": null}, "y": {"datum": 0, "type": "quantitative", "scale": {"domain": [-1.2835, 1.2087], "zero": false, "nice": false}, "axis": null}, "theta": {"datum": -46, "type": "quantitative", "scale": {"type": "linear", "domain": [90, -270], "range": [0, 6.283185307179586], "zero": false, "nice": false}}, "radius": {"field": "v", "type": "quantitative", "scale": {"type": "linear", "domain": [0, 1], "range": [0, 321], "zero": true, "nice": false}}, "text": {"field": "t"}}},
{"data": {"name": "db1"}, "mark": {"type": "arc", "filled": false, "clip": true, "stroke": "#00ff00", "strokeDash": [16, 12], "strokeWidth": 2.2, "theta": 0, "theta2": 6.2832},
 "encoding": {"x": {"datum": 0, "type": "quantitative", "scale": {"domain": [-1.3271, 2.3832], "zero": false, "nice": false}, "axis": null}, "y": {"datum": 0, "type": "quantitative", "scale": {"domain": [-1.2835, 1.2087], "zero": false, "nice": false}, "axis": null}, "radius": {"field": "r", "type": "quantitative", "scale": {"type": "linear", "domain": [0, 1], "range": [0, 321], "zero": true, "nice": false}}, "radius2": {"datum": 0}}},
{"data": {"name": "db3"}, "mark": {"type": "arc", "filled": false, "clip": true, "stroke": "#ff0000", "strokeDash": [16, 12], "strokeWidth": 2.2, "theta": 0, "theta2": 6.2832},
 "encoding": {"x": {"datum": 0, "type": "quantitative", "scale": {"domain": [-1.3271, 2.3832], "zero": false, "nice": false}, "axis": null}, "y": {"datum": 0, "type": "quantitative", "scale": {"domain": [-1.2835, 1.2087], "zero": false, "nice": false}, "axis": null}, "radius": {"field": "r", "type": "quantitative", "scale": {"type": "linear", "domain": [0, 1], "range": [0, 321], "zero": true, "nice": false}}, "radius2": {"datum": 0}}},
{"data": {"name": "A"}, "transform": [{"window": [{"op": "row_number", "as": "i"}]}], "mark": {"type": "line", "strokeWidth": 4.8, "strokeJoin": "round", "strokeCap": "round"},
 "encoding": {"x": {"field": "x", "type": "quantitative", "scale": {"domain": [-1.3271, 2.3832], "zero": false, "nice": false}, "axis": null}, "y": {"field": "y", "type": "quantitative", "scale": {"domain": [-1.2835, 1.2087], "zero": false, "nice": false}, "axis": null}, "order": {"field": "i", "type": "quantitative"},
  "stroke": {"field": "s", "type": "nominal", "scale": {"domain": ["ε = 1", "ε = 2.55", "ε = 4.7", "ε = 6.5", "|S₂₁|=−1 dB", "|S₂₁|=−3 dB"], "range": ["#ff0000", "#00ff00", "#0000ff", "#ff00ff", "#00ff00", "#ff0000"]}, "legend": {"orient": "none", "legendX": 872, "legendY": 227, "title": null, "symbolType": "M-2,0H2", "symbolSize": 2025, "symbolOffset": 20.5, "labelOffset": 48.5, "padding": 8, "rowPadding": 5, "labelFont": "Liberation Serif", "labelFontSize": 40.5, "labelColor": "#111111", "labelLimit": 0, "strokeColor": "#454545", "fillColor": "#ffffff", "encode": {"symbols": {"update": {"strokeWidth": {"value": 4}}}}}},
  "strokeDash": {"field": "s", "type": "nominal", "scale": {"domain": ["ε = 1", "ε = 2.55", "ε = 4.7", "ε = 6.5", "|S₂₁|=−1 dB", "|S₂₁|=−3 dB"], "range": [[1, 0], [1, 0], [1, 0], [1, 0], [16, 12], [16, 12]]}, "legend": {"orient": "none", "legendX": 872, "legendY": 227, "title": null, "symbolType": "M-2,0H2", "symbolSize": 2025, "symbolOffset": 20.5, "labelOffset": 48.5, "padding": 8, "rowPadding": 5, "labelFont": "Liberation Serif", "labelFontSize": 40.5, "labelColor": "#111111", "labelLimit": 0, "strokeColor": "#454545", "fillColor": "#ffffff", "encode": {"symbols": {"update": {"strokeWidth": {"value": 4}}}}}}}}
]
},
{
"width": 1350, "height": 800,
"resolve": {"scale": {"theta": "independent"}},
"title": {"text": "(b)", "orient": "bottom", "anchor": "middle", "frame": "group", "offset": 9, "fontSize": 82, "font": "Liberation Serif", "fontWeight": "bold", "color": "#000000"},
"layer": [
{"data": {"name": "circles"}, "mark": {"type": "arc", "filled": false, "clip": true, "stroke": "#d2d2d2", "strokeWidth": 1.4, "theta": 0, "theta2": 6.2832},
 "encoding": {"x": {"datum": 0, "type": "quantitative", "scale": {"domain": [-1.5852, 2.6735], "zero": false, "nice": false}, "axis": null}, "y": {"datum": 0, "type": "quantitative", "scale": {"domain": [-1.3202, 1.2035], "zero": false, "nice": false}, "axis": null}, "radius": {"field": "r", "type": "quantitative", "scale": {"type": "linear", "domain": [0, 1], "range": [0, 317], "zero": true, "nice": false}}, "radius2": {"datum": 0}}},
{"data": {"name": "angles"}, "mark": {"type": "arc", "filled": false, "clip": true, "stroke": "#d2d2d2", "strokeWidth": 1.4},
 "encoding": {"x": {"datum": 0, "type": "quantitative", "scale": {"domain": [-1.5852, 2.6735], "zero": false, "nice": false}, "axis": null}, "y": {"datum": 0, "type": "quantitative", "scale": {"domain": [-1.3202, 1.2035], "zero": false, "nice": false}, "axis": null}, "theta": {"aggregate": "count", "type": "quantitative", "stack": true}, "detail": {"field": "t", "type": "nominal"}, "radius": {"datum": 1, "type": "quantitative", "scale": {"type": "linear", "domain": [0, 1], "range": [0, 317], "zero": true, "nice": false}}, "radius2": {"datum": 0}}},
{"data": {"name": "angles"}, "transform": [{"filter": "datum.a > -90 && datum.a < 90"}], "mark": {"type": "text", "align": "left", "baseline": "middle", "font": "Liberation Serif", "fontSize": 41, "color": "#111111"},
 "encoding": {"x": {"datum": 0, "type": "quantitative", "scale": {"domain": [-1.5852, 2.6735], "zero": false, "nice": false}, "axis": null}, "y": {"datum": 0, "type": "quantitative", "scale": {"domain": [-1.3202, 1.2035], "zero": false, "nice": false}, "axis": null}, "theta": {"field": "a", "type": "quantitative", "scale": {"type": "linear", "domain": [90, -270], "range": [0, 6.283185307179586], "zero": false, "nice": false}}, "radius": {"datum": 1.073, "type": "quantitative", "scale": {"type": "linear", "domain": [0, 1], "range": [0, 317], "zero": true, "nice": false}}, "text": {"field": "t"}}},
{"data": {"name": "angles"}, "transform": [{"filter": "datum.a > 90 || datum.a < -90"}], "mark": {"type": "text", "align": "right", "baseline": "middle", "font": "Liberation Serif", "fontSize": 41, "color": "#111111"},
 "encoding": {"x": {"datum": 0, "type": "quantitative", "scale": {"domain": [-1.5852, 2.6735], "zero": false, "nice": false}, "axis": null}, "y": {"datum": 0, "type": "quantitative", "scale": {"domain": [-1.3202, 1.2035], "zero": false, "nice": false}, "axis": null}, "theta": {"field": "a", "type": "quantitative", "scale": {"type": "linear", "domain": [90, -270], "range": [0, 6.283185307179586], "zero": false, "nice": false}}, "radius": {"datum": 1.087, "type": "quantitative", "scale": {"type": "linear", "domain": [0, 1], "range": [0, 317], "zero": true, "nice": false}}, "text": {"field": "t"}}},
{"data": {"name": "angles"}, "transform": [{"filter": "datum.a == 90 || datum.a == -90"}], "mark": {"type": "text", "align": "center", "baseline": "middle", "font": "Liberation Serif", "fontSize": 41, "color": "#111111"},
 "encoding": {"x": {"datum": 0, "type": "quantitative", "scale": {"domain": [-1.5852, 2.6735], "zero": false, "nice": false}, "axis": null}, "y": {"datum": 0, "type": "quantitative", "scale": {"domain": [-1.3202, 1.2035], "zero": false, "nice": false}, "axis": null}, "theta": {"field": "a", "type": "quantitative", "scale": {"type": "linear", "domain": [90, -270], "range": [0, 6.283185307179586], "zero": false, "nice": false}}, "radius": {"datum": 1.117, "type": "quantitative", "scale": {"type": "linear", "domain": [0, 1], "range": [0, 317], "zero": true, "nice": false}}, "text": {"field": "t"}}},
{"data": {"name": "radial"}, "mark": {"type": "text", "align": "center", "baseline": "middle", "font": "Liberation Serif", "fontSize": 41, "color": "#111111"},
 "encoding": {"x": {"datum": 0, "type": "quantitative", "scale": {"domain": [-1.5852, 2.6735], "zero": false, "nice": false}, "axis": null}, "y": {"datum": 0, "type": "quantitative", "scale": {"domain": [-1.3202, 1.2035], "zero": false, "nice": false}, "axis": null}, "theta": {"datum": -46, "type": "quantitative", "scale": {"type": "linear", "domain": [90, -270], "range": [0, 6.283185307179586], "zero": false, "nice": false}}, "radius": {"field": "v", "type": "quantitative", "scale": {"type": "linear", "domain": [0, 1], "range": [0, 317], "zero": true, "nice": false}}, "text": {"field": "t"}}},
{"data": {"name": "db1"}, "mark": {"type": "arc", "filled": false, "clip": true, "stroke": "#00ff00", "strokeDash": [16, 12], "strokeWidth": 2.2, "theta": 0, "theta2": 6.2832},
 "encoding": {"x": {"datum": 0, "type": "quantitative", "scale": {"domain": [-1.5852, 2.6735], "zero": false, "nice": false}, "axis": null}, "y": {"datum": 0, "type": "quantitative", "scale": {"domain": [-1.3202, 1.2035], "zero": false, "nice": false}, "axis": null}, "radius": {"field": "r", "type": "quantitative", "scale": {"type": "linear", "domain": [0, 1], "range": [0, 317], "zero": true, "nice": false}}, "radius2": {"datum": 0}}},
{"data": {"name": "db3"}, "mark": {"type": "arc", "filled": false, "clip": true, "stroke": "#ff0000", "strokeDash": [16, 12], "strokeWidth": 2.2, "theta": 0, "theta2": 6.2832},
 "encoding": {"x": {"datum": 0, "type": "quantitative", "scale": {"domain": [-1.5852, 2.6735], "zero": false, "nice": false}, "axis": null}, "y": {"datum": 0, "type": "quantitative", "scale": {"domain": [-1.3202, 1.2035], "zero": false, "nice": false}, "axis": null}, "radius": {"field": "r", "type": "quantitative", "scale": {"type": "linear", "domain": [0, 1], "range": [0, 317], "zero": true, "nice": false}}, "radius2": {"datum": 0}}},
{"data": {"name": "B"}, "transform": [{"window": [{"op": "row_number", "as": "i"}]}], "mark": {"type": "line", "strokeWidth": 4.8, "strokeJoin": "round", "strokeCap": "round"},
 "encoding": {"x": {"field": "x", "type": "quantitative", "scale": {"domain": [-1.5852, 2.6735], "zero": false, "nice": false}, "axis": null}, "y": {"field": "y", "type": "quantitative", "scale": {"domain": [-1.3202, 1.2035], "zero": false, "nice": false}, "axis": null}, "order": {"field": "i", "type": "quantitative"}, "detail": {"field": "k", "type": "nominal"},
  "stroke": {"field": "s", "type": "nominal", "scale": {"domain": ["ε = 1", "ε = 2.55", "|S₂₁|=−1 dB", "|S₂₁|=−3 dB"], "range": ["#ff0000", "#0000ff", "#00ff00", "#ff0000"]}, "legend": {"orient": "none", "legendX": 943, "legendY": 272, "title": null, "symbolType": "M-2,0H2", "symbolSize": 2025, "symbolOffset": 20.5, "labelOffset": 48.5, "padding": 8, "rowPadding": 5, "labelFont": "Liberation Serif", "labelFontSize": 40.5, "labelColor": "#111111", "labelLimit": 0, "strokeColor": "#454545", "fillColor": "#ffffff", "encode": {"symbols": {"update": {"strokeWidth": {"value": 4}}}}}},
  "strokeDash": {"field": "s", "type": "nominal", "scale": {"domain": ["ε = 1", "ε = 2.55", "|S₂₁|=−1 dB", "|S₂₁|=−3 dB"], "range": [[1, 0], [1, 0], [16, 12], [16, 12]]}, "legend": {"orient": "none", "legendX": 943, "legendY": 272, "title": null, "symbolType": "M-2,0H2", "symbolSize": 2025, "symbolOffset": 20.5, "labelOffset": 48.5, "padding": 8, "rowPadding": 5, "labelFont": "Liberation Serif", "labelFontSize": 40.5, "labelColor": "#111111", "labelLimit": 0, "strokeColor": "#454545", "fillColor": "#ffffff", "encode": {"symbols": {"update": {"strokeWidth": {"value": 4}}}}}}}}
]
},
{
"width": 1192, "height": 800,
"resolve": {"scale": {"theta": "independent"}},
"title": {"text": "(c)", "orient": "bottom", "anchor": "middle", "frame": "group", "offset": 9, "fontSize": 82, "font": "Liberation Serif", "fontWeight": "bold", "color": "#000000"},
"layer": [
{"data": {"name": "circles"}, "mark": {"type": "arc", "filled": false, "clip": true, "stroke": "#d2d2d2", "strokeWidth": 1.4, "theta": 0, "theta2": 6.2832},
 "encoding": {"x": {"datum": 0, "type": "quantitative", "scale": {"domain": [-1.3339, 2.4383], "zero": false, "nice": false}, "axis": null}, "y": {"datum": 0, "type": "quantitative", "scale": {"domain": [-1.3038, 1.2278], "zero": false, "nice": false}, "axis": null}, "radius": {"field": "r", "type": "quantitative", "scale": {"type": "linear", "domain": [0, 1], "range": [0, 316], "zero": true, "nice": false}}, "radius2": {"datum": 0}}},
{"data": {"name": "angles"}, "mark": {"type": "arc", "filled": false, "clip": true, "stroke": "#d2d2d2", "strokeWidth": 1.4},
 "encoding": {"x": {"datum": 0, "type": "quantitative", "scale": {"domain": [-1.3339, 2.4383], "zero": false, "nice": false}, "axis": null}, "y": {"datum": 0, "type": "quantitative", "scale": {"domain": [-1.3038, 1.2278], "zero": false, "nice": false}, "axis": null}, "theta": {"aggregate": "count", "type": "quantitative", "stack": true}, "detail": {"field": "t", "type": "nominal"}, "radius": {"datum": 1, "type": "quantitative", "scale": {"type": "linear", "domain": [0, 1], "range": [0, 316], "zero": true, "nice": false}}, "radius2": {"datum": 0}}},
{"data": {"name": "angles"}, "transform": [{"filter": "datum.a > -90 && datum.a < 90"}], "mark": {"type": "text", "align": "left", "baseline": "middle", "font": "Liberation Serif", "fontSize": 41, "color": "#111111"},
 "encoding": {"x": {"datum": 0, "type": "quantitative", "scale": {"domain": [-1.3339, 2.4383], "zero": false, "nice": false}, "axis": null}, "y": {"datum": 0, "type": "quantitative", "scale": {"domain": [-1.3038, 1.2278], "zero": false, "nice": false}, "axis": null}, "theta": {"field": "a", "type": "quantitative", "scale": {"type": "linear", "domain": [90, -270], "range": [0, 6.283185307179586], "zero": false, "nice": false}}, "radius": {"datum": 1.073, "type": "quantitative", "scale": {"type": "linear", "domain": [0, 1], "range": [0, 316], "zero": true, "nice": false}}, "text": {"field": "t"}}},
{"data": {"name": "angles"}, "transform": [{"filter": "datum.a > 90 || datum.a < -90"}], "mark": {"type": "text", "align": "right", "baseline": "middle", "font": "Liberation Serif", "fontSize": 41, "color": "#111111"},
 "encoding": {"x": {"datum": 0, "type": "quantitative", "scale": {"domain": [-1.3339, 2.4383], "zero": false, "nice": false}, "axis": null}, "y": {"datum": 0, "type": "quantitative", "scale": {"domain": [-1.3038, 1.2278], "zero": false, "nice": false}, "axis": null}, "theta": {"field": "a", "type": "quantitative", "scale": {"type": "linear", "domain": [90, -270], "range": [0, 6.283185307179586], "zero": false, "nice": false}}, "radius": {"datum": 1.087, "type": "quantitative", "scale": {"type": "linear", "domain": [0, 1], "range": [0, 316], "zero": true, "nice": false}}, "text": {"field": "t"}}},
{"data": {"name": "angles"}, "transform": [{"filter": "datum.a == 90 || datum.a == -90"}], "mark": {"type": "text", "align": "center", "baseline": "middle", "font": "Liberation Serif", "fontSize": 41, "color": "#111111"},
 "encoding": {"x": {"datum": 0, "type": "quantitative", "scale": {"domain": [-1.3339, 2.4383], "zero": false, "nice": false}, "axis": null}, "y": {"datum": 0, "type": "quantitative", "scale": {"domain": [-1.3038, 1.2278], "zero": false, "nice": false}, "axis": null}, "theta": {"field": "a", "type": "quantitative", "scale": {"type": "linear", "domain": [90, -270], "range": [0, 6.283185307179586], "zero": false, "nice": false}}, "radius": {"datum": 1.117, "type": "quantitative", "scale": {"type": "linear", "domain": [0, 1], "range": [0, 316], "zero": true, "nice": false}}, "text": {"field": "t"}}},
{"data": {"name": "radial"}, "mark": {"type": "text", "align": "center", "baseline": "middle", "font": "Liberation Serif", "fontSize": 41, "color": "#111111"},
 "encoding": {"x": {"datum": 0, "type": "quantitative", "scale": {"domain": [-1.3339, 2.4383], "zero": false, "nice": false}, "axis": null}, "y": {"datum": 0, "type": "quantitative", "scale": {"domain": [-1.3038, 1.2278], "zero": false, "nice": false}, "axis": null}, "theta": {"datum": -46, "type": "quantitative", "scale": {"type": "linear", "domain": [90, -270], "range": [0, 6.283185307179586], "zero": false, "nice": false}}, "radius": {"field": "v", "type": "quantitative", "scale": {"type": "linear", "domain": [0, 1], "range": [0, 316], "zero": true, "nice": false}}, "text": {"field": "t"}}},
{"data": {"name": "db1"}, "mark": {"type": "arc", "filled": false, "clip": true, "stroke": "#00ff00", "strokeDash": [16, 12], "strokeWidth": 2.2, "theta": 0, "theta2": 6.2832},
 "encoding": {"x": {"datum": 0, "type": "quantitative", "scale": {"domain": [-1.3339, 2.4383], "zero": false, "nice": false}, "axis": null}, "y": {"datum": 0, "type": "quantitative", "scale": {"domain": [-1.3038, 1.2278], "zero": false, "nice": false}, "axis": null}, "radius": {"field": "r", "type": "quantitative", "scale": {"type": "linear", "domain": [0, 1], "range": [0, 316], "zero": true, "nice": false}}, "radius2": {"datum": 0}}},
{"data": {"name": "db3"}, "mark": {"type": "arc", "filled": false, "clip": true, "stroke": "#ff0000", "strokeDash": [16, 12], "strokeWidth": 2.2, "theta": 0, "theta2": 6.2832},
 "encoding": {"x": {"datum": 0, "type": "quantitative", "scale": {"domain": [-1.3339, 2.4383], "zero": false, "nice": false}, "axis": null}, "y": {"datum": 0, "type": "quantitative", "scale": {"domain": [-1.3038, 1.2278], "zero": false, "nice": false}, "axis": null}, "radius": {"field": "r", "type": "quantitative", "scale": {"type": "linear", "domain": [0, 1], "range": [0, 316], "zero": true, "nice": false}}, "radius2": {"datum": 0}}},
{"data": {"name": "C"}, "transform": [{"window": [{"op": "row_number", "as": "i"}]}], "mark": {"type": "line", "strokeWidth": 4.8, "strokeJoin": "round", "strokeCap": "round"},
 "encoding": {"x": {"field": "x", "type": "quantitative", "scale": {"domain": [-1.3339, 2.4383], "zero": false, "nice": false}, "axis": null}, "y": {"field": "y", "type": "quantitative", "scale": {"domain": [-1.3038, 1.2278], "zero": false, "nice": false}, "axis": null}, "order": {"field": "i", "type": "quantitative"},
  "stroke": {"field": "s", "type": "nominal", "scale": {"domain": ["βd = 45°", "βd = 90°", "βd = 135°", "|S₂₁|=−1 dB", "|S₂₁|=−3 dB"], "range": ["#ff0000", "#00ff00", "#0000ff", "#00ff00", "#ff0000"]}, "legend": {"orient": "none", "legendX": 864, "legendY": 257, "title": null, "symbolType": "M-2,0H2", "symbolSize": 2025, "symbolOffset": 20.5, "labelOffset": 48.5, "padding": 8, "rowPadding": 5, "labelFont": "Liberation Serif", "labelFontSize": 40.5, "labelColor": "#111111", "labelLimit": 0, "strokeColor": "#454545", "fillColor": "#ffffff", "encode": {"symbols": {"update": {"strokeWidth": {"value": 4}}}}}},
  "strokeDash": {"field": "s", "type": "nominal", "scale": {"domain": ["βd = 45°", "βd = 90°", "βd = 135°", "|S₂₁|=−1 dB", "|S₂₁|=−3 dB"], "range": [[1, 0], [1, 0], [1, 0], [16, 12], [16, 12]]}, "legend": {"orient": "none", "legendX": 864, "legendY": 257, "title": null, "symbolType": "M-2,0H2", "symbolSize": 2025, "symbolOffset": 20.5, "labelOffset": 48.5, "padding": 8, "rowPadding": 5, "labelFont": "Liberation Serif", "labelFontSize": 40.5, "labelColor": "#111111", "labelLimit": 0, "strokeColor": "#454545", "fillColor": "#ffffff", "encode": {"symbols": {"update": {"strokeWidth": {"value": 4}}}}}}}}
]
}
]
}
